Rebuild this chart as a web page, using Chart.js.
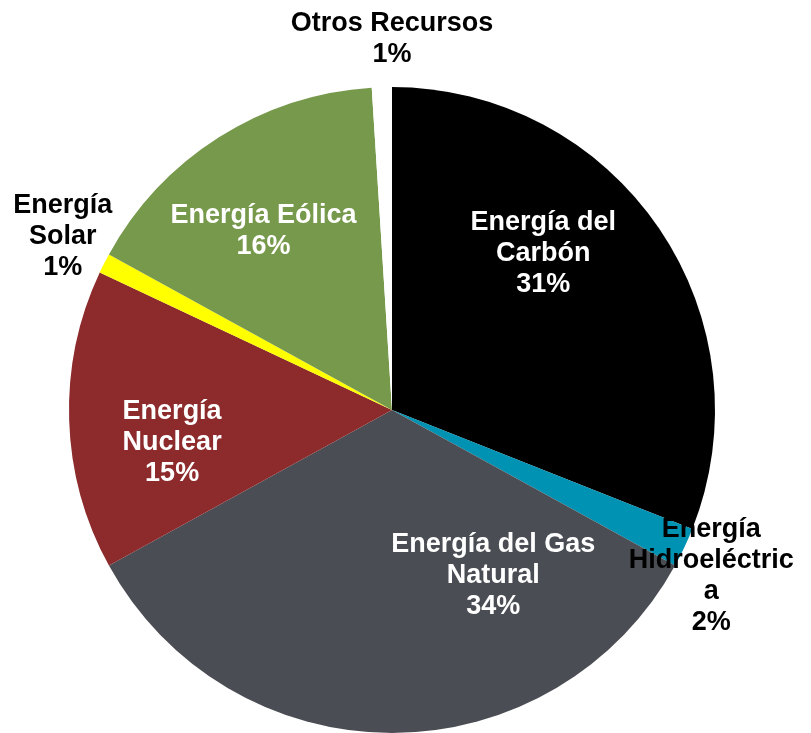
<!DOCTYPE html>
<html>
<head>
<meta charset="utf-8">
<script src="https://cdn.jsdelivr.net/npm/chart.js"></script>
<style>body{margin:0;background:#fff}</style>
</head>
<body>
<canvas id="piechart" width="811" height="733"></canvas>
<script>
let labelPie = ['Energía del Carbón','Energía Hidroeléctrica','Energía del Gas Natural','Energía Nuclear','Energía Solar','Energía Eólica','Otros Recursos']
let dataPie = [31,2,34,15,1,16,1]
let colorPie = ['#000000','#0092b3','#4a4d53','#8c2a2c','#ffff00','#77994b','#ffffff']

// wrapped text for each slice label (the percentage is added below it)
let linesPie = [['Energía del','Carbón'],['Energía','Hidroeléctric','a'],['Energía del Gas','Natural'],['Energía','Nuclear'],['Energía','Solar'],['Energía Eólica'],['Otros Recursos']]
// label spot: [fraction along the slice angle, fraction of the radius]
let placePie = [[0.39,0.68],[0.76,1.11],[0.24,0.594],[0.39,0.687],[0.8,1.155],[0.45,0.689],[1,1.155]]
let inkPie = ['#fff','#000','#fff','#fff','#000','#fff','#000']

const sliceLabels = {
  id:'sliceLabels',
  afterDatasetsDraw(chart){
    const ctx = chart.ctx
    chart.getDatasetMeta(0).data.forEach((arc,i)=>{
      const p = arc.getProps(['x','y','startAngle','endAngle','outerRadius'],true)
      const a = p.startAngle + placePie[i][0]*(p.endAngle-p.startAngle)
      const r = p.outerRadius*placePie[i][1]
      const cx = p.x + Math.cos(a)*r
      const cy = p.y + Math.sin(a)*r + 2.5
      const lines = linesPie[i].concat(dataPie[i]+'%')
      ctx.save()
      ctx.font = 'bold 27px "Liberation Sans", Arial, sans-serif'
      ctx.fillStyle = inkPie[i]
      ctx.textAlign = 'center'
      ctx.textBaseline = 'middle'
      lines.forEach((t,k)=>ctx.fillText(t, cx, cy + (k-(lines.length-1)/2)*31))
      ctx.restore()
    })
  }
}

let pieChart = new Chart(document.querySelector('#piechart').getContext('2d'), {
  type:'pie',
  data:{
    labels:labelPie,
    datasets:[{
      data:dataPie,
      backgroundColor:colorPie,
      borderWidth:0
    }]
  },
  options:{
    responsive:false,
    animation:false,
    layout:{padding:{left:67,right:94,top:87,bottom:0}},
    plugins:{
      legend:{display:false},
      tooltip:{enabled:false}
    }
  },
  plugins:[sliceLabels]
})
</script>
</body>
</html>
